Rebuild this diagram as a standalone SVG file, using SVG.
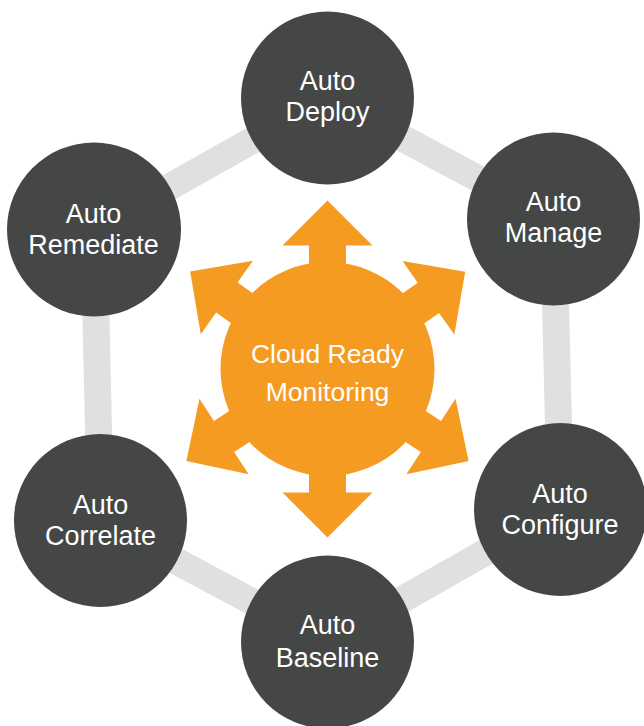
<svg xmlns="http://www.w3.org/2000/svg" width="644" height="726" viewBox="0 0 644 726">
  <style>
    .ring { fill: none; stroke: #e0e0e0; stroke-width: 27; stroke-linejoin: miter; }
    .node { fill: #454746; }
    .label { fill: #ffffff; font-family: "Liberation Sans", Arial, Helvetica, sans-serif; font-size: 27px; text-anchor: middle; }
    .hub { fill: #f59b22; }
    .hub-label { fill: #ffffff; font-family: "Liberation Sans", Arial, Helvetica, sans-serif; font-size: 26.5px; text-anchor: middle; }
  </style>
  <defs>
    <!-- one arrow pointing up from the hub centre -->
    <path id="spoke" d="M -18.5,-90 L -18.5,-123.5 L -45,-123.5 L 0,-168.5 L 45,-123.5 L 18.5,-123.5 L 18.5,-90 Z"/>
  </defs>
  <rect width="644" height="726" fill="#ffffff"/>

  <!-- connectors: the hexagonal ring joining the six stages -->
  <g id="connectors">
    <polygon class="ring" points="327.5,98 553.5,219 560.5,509.5 327.5,642 100.5,520.5 94,229.5"/>
  </g>

  <!-- centre hub with six outward arrows -->
  <g id="hub" class="hub">
    <circle cx="327.5" cy="369" r="107"/>
    <use href="#spoke" transform="translate(327.5,369)"/>
    <use href="#spoke" transform="translate(327.5,369) rotate(54.8)"/>
    <use href="#spoke" transform="translate(327.5,369) rotate(123.1)"/>
    <use href="#spoke" transform="translate(327.5,369) rotate(180)"/>
    <use href="#spoke" transform="translate(327.5,369) rotate(-123.1)"/>
    <use href="#spoke" transform="translate(327.5,369) rotate(-54.6)"/>
    <text class="hub-label" x="327.5" y="363">Cloud Ready</text>
    <text class="hub-label" x="327.5" y="400.5">Monitoring</text>
  </g>

  <g id="auto-deploy">
    <circle class="node" cx="327.5" cy="98" r="86.5"/>
    <text class="label" x="327.5" y="89.5">Auto</text>
    <text class="label" x="327.5" y="121">Deploy</text>
  </g>

  <g id="auto-manage">
    <circle class="node" cx="553.5" cy="219" r="86.5"/>
    <text class="label" x="553.5" y="211">Auto</text>
    <text class="label" x="553.5" y="242">Manage</text>
  </g>

  <g id="auto-configure">
    <circle class="node" cx="560.5" cy="509.5" r="86.5"/>
    <text class="label" x="560" y="502.5">Auto</text>
    <text class="label" x="560" y="534">Configure</text>
  </g>

  <g id="auto-baseline">
    <circle class="node" cx="327.5" cy="642" r="86.5"/>
    <text class="label" x="327.5" y="633.5">Auto</text>
    <text class="label" x="327.5" y="666.5">Baseline</text>
  </g>

  <g id="auto-correlate">
    <circle class="node" cx="100.5" cy="520.5" r="86.5"/>
    <text class="label" x="100.5" y="513.5">Auto</text>
    <text class="label" x="100.5" y="545">Correlate</text>
  </g>

  <g id="auto-remediate">
    <circle class="node" cx="94" cy="229.5" r="87"/>
    <text class="label" x="93.5" y="222.5">Auto</text>
    <text class="label" x="93.5" y="254">Remediate</text>
  </g>
</svg>
